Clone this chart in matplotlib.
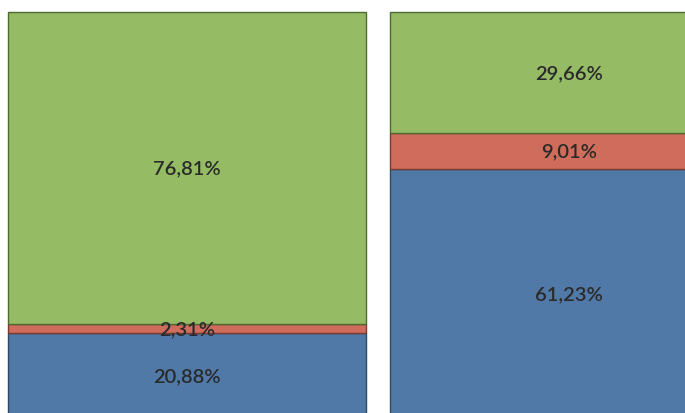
import matplotlib
matplotlib.use("Agg")
import matplotlib.pyplot as plt
import numpy as np

categories = ["A", "B"]
blue_vals = [20.88, 61.23]
red_vals = [2.31, 9.01]
green_vals = [76.81, 29.66]
series = [("blue", blue_vals), ("red", red_vals), ("green", green_vals)]
colors = {"blue": "#5079a8", "red": "#cf6c5c", "green": "#95bb64"}
edges = {"blue": "#2f4a66", "red": "#7a3a30", "green": "#4f6a30"}

plt.rcParams["font.family"] = ["Lato", "DejaVu Sans"]

fig = plt.figure(figsize=(6.85, 4.14), dpi=100)
ax = fig.add_axes([0, 0, 1, 1])

x = np.arange(len(categories))
width = 0.937
bottom = np.zeros(len(categories))
for name, vals in series:
    vals = np.array(vals)
    ax.bar(x, vals, width=width, bottom=bottom, color=colors[name],
           edgecolor=edges[name], linewidth=1.0)
    for xi, b, v in zip(x, bottom, vals):
        ax.text(xi, b + v / 2, f"{v:.2f}%".replace(".", ","), ha="center",
                va="center", fontsize=14.5, fontweight="semibold",
                color="#2a2a2a")
    bottom += vals

ax.set_xlim(-0.4895, 1.3037)
ax.set_ylim(1.23, 103.2)
ax.axis("off")
fig.savefig("out.png", dpi=100, facecolor="white")
